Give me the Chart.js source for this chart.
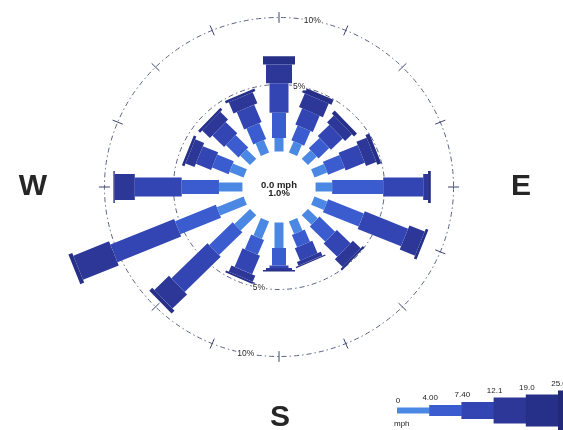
<!DOCTYPE html>
<html>
<head>
<meta charset="utf-8">
<title>Wind rose</title>
<script src="https://cdn.jsdelivr.net/npm/chart.js@4.4.1/dist/chart.umd.min.js"></script>
<style>
  html, body { margin: 0; padding: 0; background: #ffffff; }
  canvas { display: block; }
</style>
</head>
<body>
<canvas id="rose" width="563" height="430"></canvas>
<script>
// Sixteen compass sectors, clockwise from north
const directions = ['N', 'NNE', 'NE', 'ENE', 'E', 'ESE', 'SE', 'SSE',
                    'S', 'SSW', 'SW', 'WSW', 'W', 'WNW', 'NW', 'NNW'];

// Wind-speed class edges (mph) shown in the colour key
const speedEdges = ['0', '4.00', '7.40', '12.1', '19.0', '25.0'];

// Frequency of occurrence (%) per sector, one list per speed class
const freq0to4    = [1.0, 0.9, 0.9, 1.0, 1.2, 1.0, 1.0, 1.0, 1.9, 1.4, 1.6, 2.1, 1.7, 1.1, 1.0, 1.0];
const freq4to7    = [1.9, 1.2, 1.1, 1.3, 3.7, 2.8, 1.6, 1.0, 1.3, 1.2, 2.4, 3.2, 2.7, 1.3, 1.3, 1.3];
const freq7to12   = [2.2, 1.3, 1.2, 1.5, 2.9, 3.4, 1.4, 1.0, 0.2, 1.5, 3.7, 5.0, 3.4, 1.2, 1.2, 1.4];
const freq12to19  = [1.4, 1.1, 0.7, 0.8, 0.35, 1.2, 0.8, 0.3, 0.15, 0.5, 1.5, 2.8, 1.45, 0.7, 0.8, 0.9];
const freq19to25  = [0.6, 0.4, 0.3, 0.3, 0.2, 0.2, 0.15, 0.1, 0.1, 0.15, 0.3, 0.3, 0.1, 0.2, 0.2, 0.2];
const freq25up    = [0, 0, 0, 0, 0, 0, 0, 0, 0, 0, 0, 0, 0, 0, 0, 0];

// Calm conditions written in the middle of the rose
const calmSpeed = '0.0 mph';
const calmPercent = '1.0%';

// Frequency rings (%)
const ringValues = [5, 10];
const ringLabels = ['5%', '10%'];

// ---- styling / geometry ----
const speedClasses = [freq0to4, freq4to7, freq7to12, freq12to19, freq19to25, freq25up];
const barWidths  = [9, 14, 19, 26, 32, 38];
const barColors  = ['#4a88e4', '#3a5ccf', '#3345b2', '#2c3798', '#273088', '#212978'];
const HOLE = 2.65;                 // radius of the calm circle, in % units
const PX_X = 13.8, PX_Y = 13.4;    // pixels per % unit horizontally / vertically
const CX = 279, CY = 187;          // pixel position of the rose centre
const W = 563, H = 430;

function polar(r, deg) {
  const a = deg * Math.PI / 180;
  return { x: r * Math.sin(a), y: r * Math.cos(a) };
}

// Each speed class becomes one line dataset: a thick segment per sector,
// separated by null points so the segments stay apart.
function classSegments(k) {
  const pts = [];
  directions.forEach((d, i) => {
    let inner = HOLE;
    for (let j = 0; j < k; j++) inner += speedClasses[j][i];
    const v = speedClasses[k][i];
    if (!(v > 0)) return;
    const deg = i * 22.5;
    pts.push(polar(inner, deg), polar(inner + v, deg), { x: null, y: null });
  });
  return pts;
}

const datasets = speedClasses.map((arr, k) => ({
  label: speedEdges[k] + (k < speedEdges.length - 1 ? ' - ' + speedEdges[k + 1] : '+') + ' mph',
  data: classSegments(k),
  showLine: true,
  spanGaps: false,
  borderColor: barColors[k],
  backgroundColor: barColors[k],
  borderWidth: barWidths[k],
  borderCapStyle: 'butt',
  borderJoinStyle: 'bevel',
  // a solid "dash" keeps every short segment on the plain moveTo/lineTo path
  borderDash: [100000, 0],
  pointRadius: 0,
  pointHoverRadius: 0,
  fill: false
}));

function px(chart, x, y) {
  return { x: chart.scales.x.getPixelForValue(x), y: chart.scales.y.getPixelForValue(y) };
}

const roseFrame = {
  id: 'roseFrame',
  beforeDatasetsDraw(chart) {
    const ctx = chart.ctx;
    const c = px(chart, 0, 0);
    ctx.save();
    // frequency rings
    ringValues.forEach(v => {
      const e = px(chart, HOLE + v, HOLE + v);
      ctx.beginPath();
      ctx.ellipse(c.x, c.y, Math.abs(e.x - c.x), Math.abs(c.y - e.y), 0, 0, Math.PI * 2);
      ctx.strokeStyle = '#5b6282';
      ctx.lineWidth = 1;
      ctx.setLineDash([5, 3, 1.5, 3]);
      ctx.stroke();
    });
    ctx.setLineDash([]);
    // sector ticks on the outer ring
    const outer = HOLE + ringValues[ringValues.length - 1];
    directions.forEach((d, i) => {
      const a = polar(outer - 0.4, i * 22.5);
      const b = polar(outer + 0.4, i * 22.5);
      const pa = px(chart, a.x, a.y), pb = px(chart, b.x, b.y);
      ctx.beginPath();
      ctx.moveTo(pa.x, pa.y);
      ctx.lineTo(pb.x, pb.y);
      ctx.strokeStyle = '#3c4470';
      ctx.lineWidth = 1;
      ctx.stroke();
    });
    ctx.restore();
  },
  afterDatasetsDraw(chart) {
    const ctx = chart.ctx;
    const c = px(chart, 0, 0);
    ctx.save();
    // ring labels, on both sides of the rose
    ctx.font = '8.5px "Liberation Sans", Arial, sans-serif';
    ctx.textAlign = 'center';
    ctx.textBaseline = 'middle';
    ringValues.forEach((v, i) => {
      [11, 191].forEach(deg => {
        const p = polar(HOLE + v, deg);
        const q = px(chart, p.x, p.y);
        const w = ctx.measureText(ringLabels[i]).width;
        ctx.fillStyle = '#ffffff';
        ctx.fillRect(q.x - w / 2 - 1, q.y - 4, w + 2, 8);
        ctx.fillStyle = '#2a2a2a';
        ctx.fillText(ringLabels[i], q.x, q.y + 0.5);
      });
    });
    // calm summary
    ctx.font = 'bold 9.5px "Liberation Sans", Arial, sans-serif';
    ctx.fillStyle = '#222222';
    ctx.fillText(calmSpeed, c.x, c.y - 2);
    ctx.fillText(calmPercent, c.x, c.y + 6.5);
    ctx.restore();
  },
  afterDraw(chart) {
    const ctx = chart.ctx;
    ctx.save();
    // compass letters
    ctx.font = 'bold 30px "Liberation Sans", Arial, sans-serif';
    ctx.fillStyle = '#262626';
    ctx.textAlign = 'center';
    ctx.textBaseline = 'middle';
    ctx.fillText('W', 33, 187);
    ctx.fillText('E', 521, 187);
    ctx.fillText('S', 280, 418);
    // colour key
    const keyX = 397, keyW = 32.2, keyY = 410.5;
    const keyH = [6, 11, 17, 26, 32, 40];
    ctx.font = '8px "Liberation Sans", Arial, sans-serif';
    ctx.textBaseline = 'alphabetic';
    speedEdges.forEach((lab, k) => {
      const x0 = keyX + k * keyW;
      ctx.fillStyle = barColors[k];
      ctx.fillRect(x0, keyY - keyH[k] / 2, keyW + 0.5, keyH[k]);
      ctx.fillStyle = '#222222';
      ctx.fillText(lab, x0 + 1, keyY - keyH[k] / 2 - 5);
    });
    ctx.textAlign = 'left';
    ctx.fillText('mph', 394, 426);
    ctx.restore();
  }
};

new Chart(document.getElementById('rose'), {
  type: 'scatter',
  data: { datasets },
  options: {
    responsive: false,
    animation: false,
    events: [],
    layout: { padding: 0 },
    plugins: { legend: { display: false }, tooltip: { enabled: false } },
    scales: {
      x: { type: 'linear', display: false, min: -CX / PX_X, max: (W - CX) / PX_X },
      y: { type: 'linear', display: false, min: -(H - CY) / PX_Y, max: CY / PX_Y }
    }
  },
  plugins: [roseFrame]
});
</script>
</body>
</html>
